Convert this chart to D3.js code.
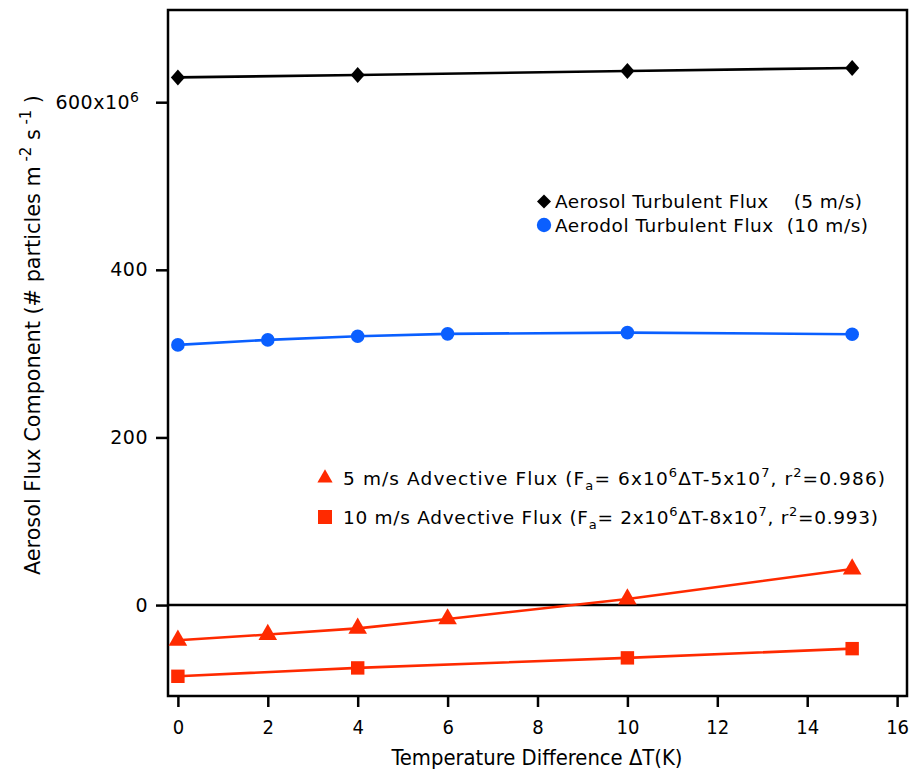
<!DOCTYPE html>
<html><head><meta charset="utf-8">
<script src="https://cdn.jsdelivr.net/npm/d3@7"></script>
<style>body{margin:0;background:#fff}</style>
</head><body>
<svg id="chart" width="914" height="770"></svg>
<script>
// Temperature differences (K) and flux components (10^6 particles m^-2 s^-1)
const dtTurb5 = [0, 4, 10, 15];
const turb5 = [629.6, 632.5, 637.3, 640.8];
const dtTurb10 = [0, 2, 4, 6, 10, 15];
const turb10 = [310.4, 316.4, 320.8, 323.6, 325.1, 323.2];
const dtAdv5 = [0, 2, 4, 6, 10, 15];
const adv5 = [-42, -35.2, -27.8, -16.6, 7.2, 43];
const dtAdv10 = [0, 4, 10, 15];
const adv10 = [-85, -75, -63, -52];
const xTicks = [0, 2, 4, 6, 8, 10, 12, 14, 16];
const yTicks = [0, 200, 400, 600];

const black = "#000", blue = "#0a5fff", red = "#ff2a00";
const svg = d3.select("#chart");
const L = 168, R = 907, T = 10, B = 696;
const x = d3.scaleLinear().domain([-0.22, 16.22]).range([L, R]);
const y = d3.scaleLinear().domain([-108.5, 710]).range([B, T]);

const tickFont = "'DejaVu Sans', sans-serif";
const condFont = "'DejaVu Sans Condensed', 'Liberation Sans Narrow', 'Roboto Condensed', sans-serif";

// diamond marker with adjustable width/height ratio
const diamond = ratio => ({
  draw(ctx, s) {
    const h = s * 0.5, w = h * ratio;
    ctx.moveTo(0, -h); ctx.lineTo(w, 0); ctx.lineTo(0, h); ctx.lineTo(-w, 0); ctx.closePath();
  }
});

// axes
const xAxis = svg.append("g").attr("transform", `translate(0,${B})`)
  .call(d3.axisBottom(x).tickValues(xTicks).tickSize(11).tickPadding(13).tickSizeOuter(0));
const yAxis = svg.append("g").attr("transform", `translate(${L},0)`)
  .call(d3.axisLeft(y).tickValues(yTicks).tickSize(12).tickPadding(8).tickSizeOuter(0)
    .tickFormat(d => d === 600 ? "600x10" : d));
[xAxis, yAxis].forEach(g => {
  g.select(".domain").remove();
  g.selectAll(".tick line").attr("stroke", black).attr("stroke-width", 2.5);
});
xAxis.selectAll(".tick text").attr("font-family", condFont).attr("font-size", 20).attr("fill", black);
yAxis.selectAll(".tick text").attr("font-family", tickFont).attr("font-size", 19)
  .attr("letter-spacing", 0.5).attr("fill", black);
yAxis.selectAll(".tick").filter(d => d === 600).select("text")
  .attr("dx", -9)
  .append("tspan").attr("dy", "-0.5em").attr("font-size", 14).attr("letter-spacing", 0).text("6");

// frame
svg.append("rect").attr("x", L).attr("y", T).attr("width", R - L).attr("height", B - T)
  .attr("fill", "none").attr("stroke", black).attr("stroke-width", 2.5);
// zero line
svg.append("line").attr("x1", L).attr("x2", R).attr("y1", y(0)).attr("y2", y(0))
  .attr("stroke", black).attr("stroke-width", 2.5);

// series
const line = d3.line().x(d => x(d[0])).y(d => y(d[1]));
function series(xs, ys, color, sym, size) {
  const pts = xs.map((v, i) => [v, ys[i]]);
  svg.append("path").datum(pts).attr("d", line).attr("fill", "none")
    .attr("stroke", color).attr("stroke-width", 2.6);
  svg.selectAll(null).data(pts).enter().append("path")
    .attr("d", d3.symbol().type(sym).size(size))
    .attr("transform", d => `translate(${x(d[0])},${y(d[1])})`)
    .attr("fill", color);
}
series(dtTurb5, turb5, black, diamond(0.88), 16);
series(dtTurb10, turb10, blue, d3.symbolCircle, 145);
series(dtAdv5, adv5, red, d3.symbolTriangle, 150);
series(dtAdv10, adv10, red, d3.symbolSquare, 180);

// axis titles
svg.append("text").attr("x", 537).attr("y", 765).attr("text-anchor", "middle")
  .attr("font-family", condFont).attr("font-size", 20.5).attr("fill", black)
  .attr("textLength", 291).attr("lengthAdjust", "spacingAndGlyphs")
  .text("Temperature Difference ΔT(K)");
const yt = svg.append("text").attr("transform", "translate(40,335) rotate(-90)")
  .attr("text-anchor", "middle").attr("font-family", condFont).attr("font-size", 21).attr("fill", black)
  .attr("textLength", 480).attr("lengthAdjust", "spacingAndGlyphs");
yt.append("tspan").text("Aerosol Flux Component (# particles m");
yt.append("tspan").attr("dy", -9).attr("font-size", 15).text(" -2");
yt.append("tspan").attr("dy", 9).text("  s");
yt.append("tspan").attr("dy", -9).attr("font-size", 15).text(" -1");
yt.append("tspan").attr("dy", 9).text(" )");

// legends
const legFont = "'DejaVu Sans', sans-serif";
function legText(xp, yp, len) {
  return svg.append("text").attr("x", xp).attr("y", yp).attr("font-family", legFont)
    .attr("font-size", 18.5).attr("fill", black).attr("xml:space", "preserve")
    .attr("textLength", len).attr("lengthAdjust", "spacing");
}
svg.append("path").attr("d", d3.symbol().type(diamond(1)).size(14))
  .attr("transform", "translate(544,201.5)").attr("fill", black);
legText(555, 208, 307).text("Aerosol Turbulent Flux    (5 m/s)");
svg.append("circle").attr("cx", 544).attr("cy", 225).attr("r", 7.2).attr("fill", blue);
legText(555, 232, 313).text("Aerodol Turbulent Flux  (10 m/s)");

svg.append("path").attr("d", d3.symbol().type(d3.symbolTriangle).size(100))
  .attr("transform", "translate(325,478)").attr("fill", red);
svg.append("rect").attr("x", 318).attr("y", 510).attr("width", 14).attr("height", 14).attr("fill", red);
function advLegend(yp, len, label, a, b, r2) {
  const t = legText(343, yp, len);
  t.append("tspan").text(`${label} Advective Flux (F`);
  t.append("tspan").attr("dy", 5).attr("font-size", 13).text("a");
  t.append("tspan").attr("dy", -5).text(`= ${a}x10`);
  t.append("tspan").attr("dy", -8).attr("font-size", 13).text("6");
  t.append("tspan").attr("dy", 8).text(`ΔT-${b}x10`);
  t.append("tspan").attr("dy", -8).attr("font-size", 13).text("7");
  t.append("tspan").attr("dy", 8).text(", r");
  t.append("tspan").attr("dy", -8).attr("font-size", 13).text("2");
  t.append("tspan").attr("dy", 8).text(`=${r2})`);
}
advLegend(485, 542, "5 m/s", 6, 5, "0.986");
advLegend(524, 535, "10 m/s", 2, 8, "0.993");
</script>
</body></html>
